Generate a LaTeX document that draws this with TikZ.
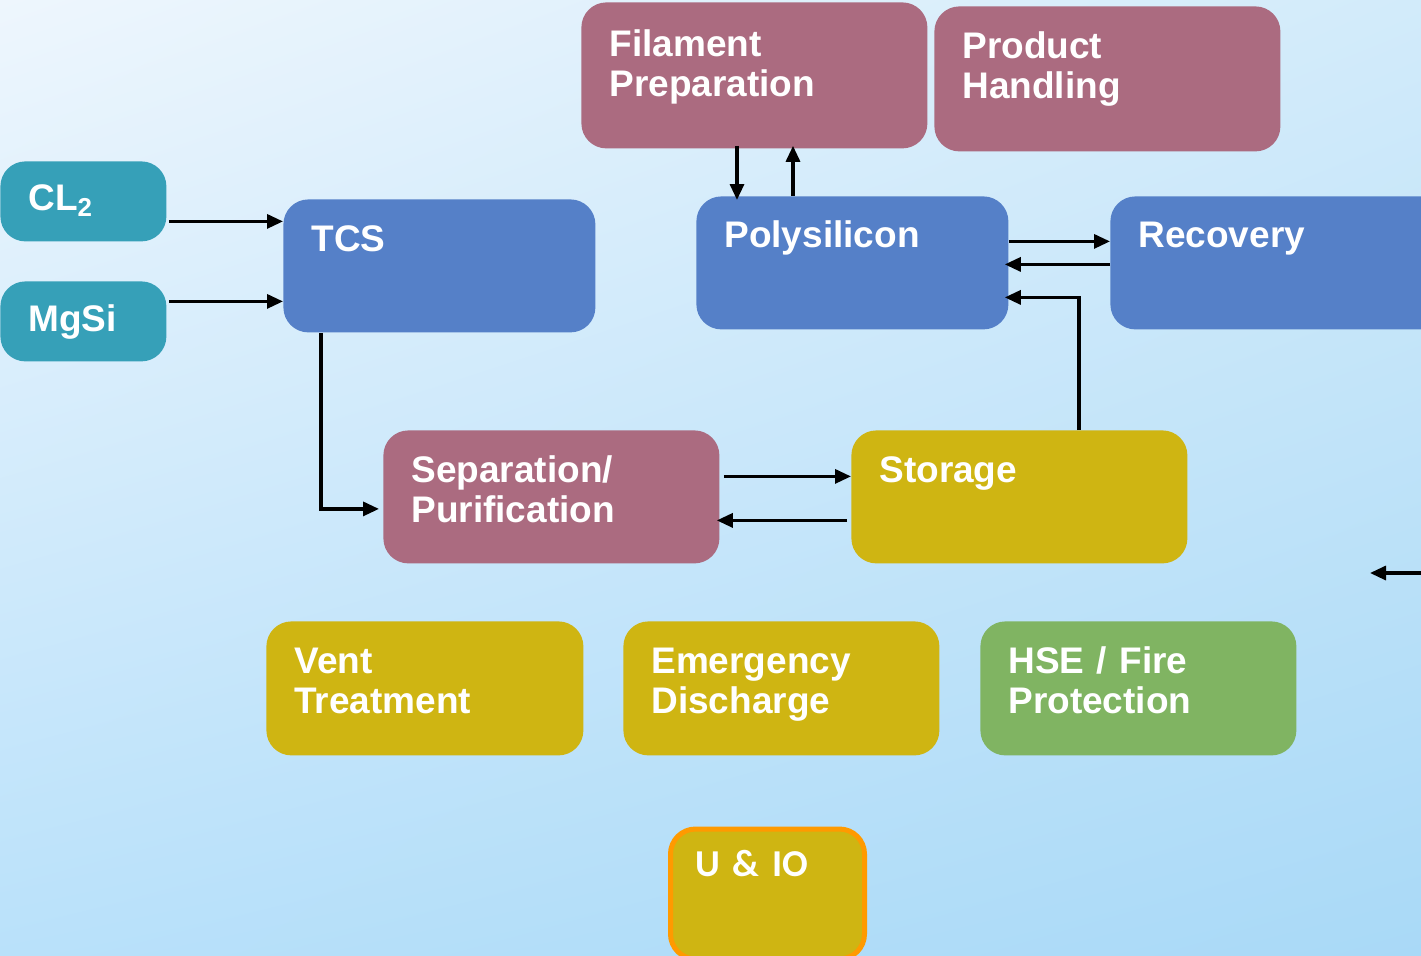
\documentclass[tikz,border=0pt]{standalone}
\usepackage{fontspec}
\setmainfont{Liberation Sans}
\newfontfamily\uiofont{Carlito}
\usetikzlibrary{arrows.meta,shadings}
\definecolor{tealc}{HTML}{36A0B8}
\definecolor{bluec}{HTML}{5580C8}
\definecolor{mauvec}{HTML}{AB6B80}
\definecolor{yellowc}{HTML}{CFB512}
\definecolor{greenc}{HTML}{80B462}
\definecolor{orangec}{HTML}{FF9A00}
\definecolor{bgtl}{HTML}{EEF6FD}
\definecolor{bgtr}{HTML}{D2EBFA}
\definecolor{bgbl}{HTML}{B9E1FA}
\definecolor{bgbr}{HTML}{A9D9F7}
\begin{document}
\begin{tikzpicture}[x=0.5pt,y=-0.5pt,>={Triangle[length=8pt,width=7pt]},
  box/.style={rounded corners=12.5pt, anchor=north west, inner xsep=14pt, inner ysep=0pt,
    text height=26pt, align=left, text=white, font=\fontsize{18.5}{20}\selectfont\bfseries},
  arr/.style={->, line width=1.6pt}]

            \useasboundingbox (0,0) rectangle (1421,955);
            \clip (0,0) rectangle (1421,955);
            \shade[upper left=bgtl, upper right=bgtr, lower left=bgbl, lower right=bgbr] (0,0) rectangle (1421,955);

            % feed and process blocks
            \node[box, fill=tealc, text width=55pt, text height=24.5pt, text depth=15.5pt] (cl2) at (0,161) {CL\textsubscript{2}};
            \node[box, fill=tealc, text width=55pt, text height=25pt, text depth=15pt] (mgsi) at (0,281) {MgSi};
            \node[box, fill=bluec, text width=128pt, text depth=40.5pt] (tcs) at (283,199) {TCS};
            \node[box, fill=mauvec, text width=145pt, text height=27pt, text depth=46pt] (fil) at (581,2) {Filament\\Preparation};
            \node[box, fill=mauvec, text width=145pt, text depth=46.5pt] (prod) at (934,6) {Product\\Handling};
            \node[box, fill=bluec, text width=128pt, text height=25.5pt, text depth=41pt] (poly) at (696,196) {Polysilicon};
            \node[box, fill=bluec, text width=142pt, text height=25.5pt, text depth=41pt] (rec) at (1110,196) {Recovery};
            \node[box, fill=mauvec, text width=140pt, text depth=40.5pt] (sep) at (383,430) {Separation/\\Purification};
            \node[box, fill=yellowc, text width=140pt, text depth=40.5pt] (sto) at (851,430) {Storage};

            % utility blocks
            \node[box, fill=yellowc, text width=130.5pt, text depth=41pt] (vent) at (266,621) {Vent\\Treatment};
            \node[box, fill=yellowc, text width=130pt, text depth=41pt] (emer) at (623,621) {Emergency\\Discharge};
            \node[box, fill=greenc, text width=130pt, text depth=41pt] (hse) at (980,621) {HSE / Fire\\Protection};
            \node[box, fill=yellowc, draw=orangec, line width=2.5pt, inner xsep=12.5pt, text width=72pt,
              text height=23.75pt, text depth=41.25pt, font=\uiofont\fontsize{19}{22}\selectfont\bfseries] (uio) at (668,826.5) {U \& IO};

            \coordinate (s1) at (1425,573);
            \coordinate (s2) at (1370,573);
            \coordinate (p1) at ([xshift=20.5pt]poly.north west);
            \coordinate (p2) at ([xshift=48.5pt]poly.north west);

            % connectors
            \draw[arr] ([shift={(1pt,-10pt)}]cl2.east) coordinate (c1) -- (c1 -| tcs.west);
            \draw[arr] ([shift={(1pt,10pt)}]mgsi.east) coordinate (c2) -- (c2 -| tcs.west);
            \draw[arr, shorten >=2pt] ([xshift=19pt]tcs.south west) |- ([yshift=-6pt]sep.west);
            \draw[arr] ([yshift=1.5pt]p1 |- fil.south) -- ([yshift=-2pt]p1);
            \draw[arr] (p2) -- ([yshift=1.5pt]p2 |- fil.south);
            \draw[arr] ([yshift=10.75pt]poly.east) coordinate (p3) -- (p3 -| rec.west);
            \draw[arr] ([yshift=-0.75pt]rec.west) coordinate (r1) -- ([xshift=-2pt]r1 -| poly.east);
            \draw[arr] ([xshift=114pt]sto.north west) |- ([shift={(-2pt,-17.25pt)}]poly.east);
            \draw[arr] ([shift={(2pt,10.25pt)}]sep.east) coordinate (q1) -- (q1 -| sto.west);
            \draw[arr] ([shift={(-2pt,-11.75pt)}]sto.west) coordinate (q2) -- ([xshift=-1.5pt]q2 -| sep.east);
            \draw[arr] (s1) -- (s2);

            ;
        \end{tikzpicture}
\end{document}
